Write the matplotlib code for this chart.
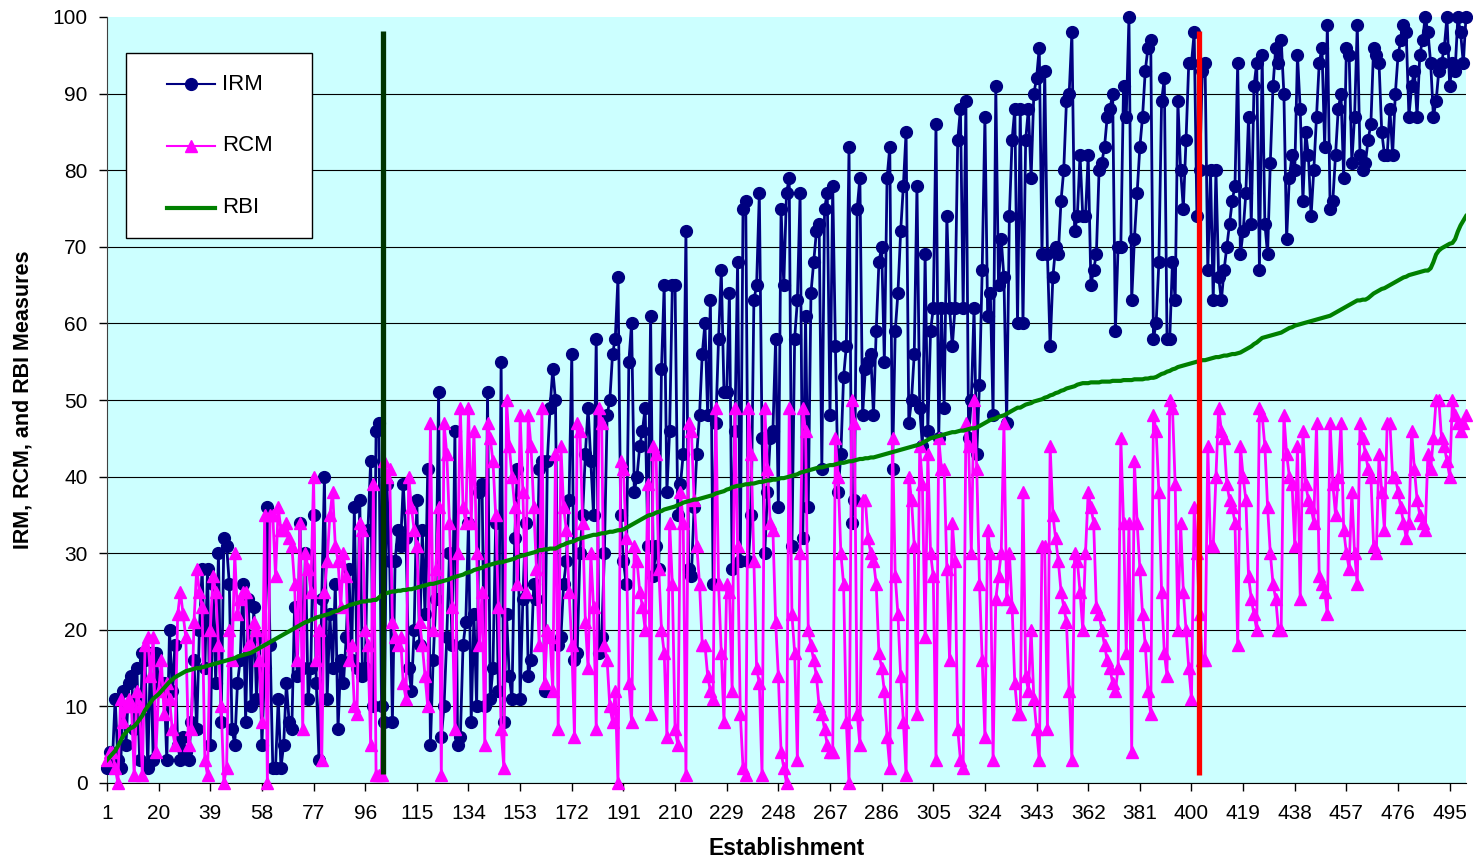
import numpy as np
import matplotlib
matplotlib.use("Agg")
from matplotlib import pyplot as plt
from matplotlib.patches import Rectangle
from matplotlib.lines import Line2D

plt.rcParams['font.family'] = ['Liberation Sans', 'DejaVu Sans']

# values, one per establishment (1..501)
irm = [
    2, 4, 3, 11, 3, 2, 12, 5, 13, 14, 7, 15, 3, 17, 16, 2, 17, 3, 17, 13,
    12, 13, 3, 20, 12, 18, 5, 3, 6, 4, 3, 8, 16, 7, 20, 28, 15, 28, 5, 26,
    13, 30, 8, 32, 31, 26, 7, 5, 13, 16, 26, 8, 24, 10, 23, 11, 19, 5, 15, 36,
    18, 2, 2, 11, 2, 5, 13, 8, 7, 23, 14, 34, 15, 30, 11, 15, 35, 13, 3, 24,
    40, 11, 22, 15, 26, 7, 16, 13, 19, 28, 16, 36, 15, 37, 14, 15, 33, 42, 10, 46,
    47, 10, 8, 39, 29, 8, 29, 33, 31, 39, 32, 15, 12, 20, 37, 18, 33, 22, 41, 5,
    16, 24, 51, 6, 10, 19, 30, 18, 46, 5, 6, 18, 21, 34, 8, 22, 10, 38, 39, 10,
    51, 11, 15, 34, 12, 55, 8, 22, 14, 11, 32, 41, 11, 24, 34, 14, 16, 26, 24, 41,
    42, 12, 42, 49, 54, 50, 18, 19, 26, 29, 37, 56, 16, 17, 30, 35, 43, 49, 42, 35,
    58, 17, 19, 30, 48, 50, 56, 58, 66, 35, 29, 26, 55, 60, 38, 40, 44, 46, 49, 31,
    61, 27, 31, 28, 54, 65, 38, 46, 65, 65, 35, 39, 43, 72, 28, 27, 36, 43, 48, 56,
    60, 48, 63, 26, 47, 58, 67, 51, 51, 64, 28, 46, 68, 29, 75, 76, 29, 35, 63, 65,
    77, 45, 30, 38, 45, 46, 58, 36, 75, 65, 77, 79, 31, 58, 63, 77, 32, 61, 36, 64,
    68, 72, 73, 41, 75, 77, 48, 78, 57, 38, 43, 53, 57, 83, 34, 37, 75, 79, 48, 54,
    55, 56, 48, 59, 68, 70, 55, 79, 83, 41, 59, 64, 72, 78, 85, 47, 50, 56, 78, 49,
    44, 69, 46, 59, 62, 86, 45, 62, 49, 74, 62, 57, 62, 84, 88, 62, 89, 45, 50, 62,
    43, 52, 67, 87, 61, 64, 48, 91, 65, 71, 66, 47, 74, 84, 88, 60, 88, 60, 84, 88,
    79, 90, 92, 96, 69, 93, 69, 57, 66, 70, 69, 76, 80, 89, 90, 98, 72, 74, 82, 74,
    74, 82, 65, 67, 69, 80, 81, 83, 87, 88, 90, 59, 70, 70, 91, 87, 100, 63, 71, 77,
    83, 87, 93, 96, 97, 58, 60, 68, 89, 92, 58, 58, 68, 63, 89, 80, 75, 84, 94, 94,
    98, 74, 80, 93, 94, 67, 80, 63, 80, 66, 63, 67, 70, 73, 76, 78, 94, 69, 72, 77,
    87, 73, 91, 94, 67, 95, 73, 69, 81, 91, 96, 94, 97, 90, 71, 79, 82, 80, 95, 88,
    76, 85, 82, 74, 80, 87, 94, 96, 83, 99, 75, 76, 82, 88, 90, 79, 96, 95, 81, 87,
    99, 82, 80, 81, 84, 86, 96, 95, 94, 85, 82, 82, 88, 82, 90, 95, 97, 99, 98, 87,
    91, 93, 87, 95, 97, 100, 98, 94, 87, 89, 93, 94, 96, 100, 91, 94, 93, 100, 98, 94,
    100,
]

rcm = [
    3, 4, 4, 2, 0, 11, 8, 10, 11, 10, 1, 12, 10, 1, 18, 19, 14, 19, 4, 12,
    16, 9, 13, 11, 7, 5, 22, 25, 22, 19, 5, 7, 21, 28, 25, 23, 3, 1, 20, 27,
    25, 18, 10, 0, 2, 20, 16, 30, 22, 24, 25, 25, 18, 18, 21, 20, 16, 8, 35, 0,
    35, 35, 27, 36, 33, 33, 34, 32, 31, 26, 16, 34, 7, 30, 28, 25, 40, 16, 20, 3,
    25, 29, 35, 38, 31, 29, 23, 30, 27, 16, 18, 10, 9, 34, 33, 20, 18, 5, 39, 1,
    1, 1, 42, 40, 41, 21, 19, 18, 19, 13, 11, 40, 36, 33, 31, 21, 18, 14, 10, 47,
    20, 28, 36, 1, 47, 43, 34, 23, 7, 30, 49, 36, 34, 49, 34, 46, 30, 18, 25, 5,
    47, 45, 42, 35, 23, 7, 2, 50, 44, 40, 36, 26, 48, 38, 25, 48, 44, 36, 28, 18,
    49, 13, 20, 19, 12, 43, 7, 44, 36, 33, 25, 18, 6, 47, 46, 34, 21, 15, 30, 23,
    7, 49, 47, 18, 16, 10, 8, 12, 0, 42, 41, 32, 13, 8, 31, 29, 25, 23, 20, 39,
    9, 44, 43, 28, 20, 17, 6, 34, 26, 7, 5, 38, 34, 1, 47, 46, 37, 31, 26, 18,
    18, 14, 12, 11, 49, 26, 17, 8, 26, 25, 12, 49, 31, 9, 2, 1, 49, 43, 29, 15,
    13, 1, 49, 41, 34, 33, 21, 14, 4, 2, 0, 49, 22, 17, 3, 30, 49, 46, 20, 18,
    16, 14, 10, 9, 7, 5, 4, 4, 45, 40, 30, 26, 8, 0, 50, 47, 9, 5, 37, 37,
    32, 30, 29, 26, 17, 15, 12, 6, 2, 45, 27, 22, 14, 8, 1, 40, 37, 31, 9, 44,
    39, 19, 43, 30, 27, 3, 45, 41, 41, 28, 16, 34, 29, 7, 3, 2, 47, 44, 30, 50,
    41, 26, 16, 6, 33, 30, 3, 24, 27, 30, 47, 24, 30, 23, 13, 9, 9, 38, 14, 12,
    20, 11, 7, 3, 31, 31, 7, 44, 35, 32, 29, 25, 23, 21, 12, 3, 30, 29, 25, 20,
    30, 38, 36, 34, 23, 22, 20, 18, 16, 15, 13, 12, 15, 45, 34, 17, 34, 4, 42, 34,
    28, 22, 18, 12, 9, 48, 46, 38, 25, 17, 14, 50, 49, 39, 20, 34, 25, 20, 15, 11,
    36, 30, 22, 16, 16, 44, 31, 31, 40, 49, 46, 45, 39, 37, 36, 34, 18, 44, 40, 37,
    27, 24, 22, 20, 49, 48, 44, 36, 30, 26, 24, 20, 20, 48, 43, 40, 39, 31, 44, 24,
    46, 39, 37, 36, 34, 47, 27, 26, 25, 22, 47, 39, 35, 40, 47, 33, 30, 28, 38, 30,
    26, 47, 45, 43, 41, 40, 31, 30, 43, 38, 33, 47, 47, 40, 40, 38, 36, 34, 32, 34,
    46, 41, 37, 35, 34, 33, 43, 41, 45, 50, 50, 45, 44, 42, 40, 50, 48, 47, 46, 47,
    48,
]

rbi = [
    3.0, 3.4, 3.8, 4.2, 4.8, 5.5, 6.2, 6.6, 7.0, 7.2, 7.4, 7.8, 8.3, 8.8, 9.5, 10.0, 10.5, 11.0, 11.3, 11.6,
    12.0, 12.4, 12.8, 13.2, 13.5, 13.8, 14.0, 14.2, 14.4, 14.6, 14.7, 14.8, 14.9, 15.0, 15.0, 15.1, 15.2, 15.3, 15.4, 15.5,
    15.6, 15.7, 15.8, 15.9, 16.0, 16.1, 16.2, 16.3, 16.5, 16.6, 16.7, 16.8, 16.9, 17.0, 17.2, 17.4, 17.6, 17.8, 18.0, 18.2,
    18.4, 18.6, 18.8, 19.0, 19.2, 19.4, 19.6, 19.8, 20.0, 20.2, 20.4, 20.6, 20.8, 21.0, 21.1, 21.3, 21.4, 21.6, 21.7, 21.8,
    21.9, 22.0, 22.1, 22.3, 22.4, 22.5, 22.7, 22.9, 23.0, 23.2, 23.3, 23.4, 23.5, 23.6, 23.7, 23.7, 23.8, 23.8, 23.9, 23.9,
    24.2, 24.5, 24.7, 24.8, 24.9, 25.0, 25.0, 25.1, 25.1, 25.2, 25.2, 25.3, 25.3, 25.4, 25.5, 25.6, 25.7, 25.8, 25.9, 26.0,
    26.0, 26.1, 26.2, 26.3, 26.4, 26.5, 26.6, 26.8, 26.9, 27.0, 27.1, 27.2, 27.4, 27.5, 27.6, 27.8, 27.9, 28.0, 28.1, 28.3,
    28.4, 28.5, 28.6, 28.7, 28.8, 28.8, 28.9, 29.0, 29.1, 29.2, 29.3, 29.5, 29.6, 29.7, 29.8, 29.9, 30.0, 30.1, 30.2, 30.4,
    30.4, 30.5, 30.5, 30.6, 30.6, 30.6, 30.8, 31.0, 31.1, 31.3, 31.4, 31.5, 31.6, 31.8, 31.9, 32.0, 32.1, 32.2, 32.3, 32.4,
    32.4, 32.5, 32.6, 32.6, 32.7, 32.8, 32.8, 32.9, 33.0, 33.0, 33.1, 33.3, 33.5, 33.7, 33.9, 34.1, 34.3, 34.5, 34.7, 34.9,
    35.0, 35.1, 35.3, 35.4, 35.5, 35.7, 35.8, 35.9, 36.0, 36.1, 36.3, 36.4, 36.6, 36.7, 36.8, 36.9, 37.0, 37.0, 37.1, 37.2,
    37.3, 37.4, 37.5, 37.6, 37.8, 37.9, 38.0, 38.1, 38.3, 38.4, 38.6, 38.7, 38.8, 38.8, 38.9, 39.0, 39.0, 39.1, 39.1, 39.2,
    39.3, 39.3, 39.4, 39.5, 39.5, 39.6, 39.6, 39.7, 39.8, 39.8, 39.9, 40.0, 40.1, 40.2, 40.3, 40.5, 40.6, 40.7, 40.8, 40.9,
    41.0, 41.1, 41.2, 41.2, 41.3, 41.4, 41.5, 41.5, 41.6, 41.7, 41.8, 41.8, 41.9, 42.0, 42.0, 42.1, 42.2, 42.3, 42.3, 42.4,
    42.4, 42.5, 42.5, 42.6, 42.7, 42.8, 42.9, 43.0, 43.1, 43.2, 43.3, 43.4, 43.5, 43.6, 43.7, 43.8, 43.9, 44.0, 44.1, 44.2,
    44.4, 44.6, 44.8, 45.0, 45.1, 45.2, 45.3, 45.4, 45.5, 45.6, 45.7, 45.8, 45.8, 45.9, 46.0, 46.0, 46.1, 46.2, 46.3, 46.3,
    46.4, 46.6, 46.8, 47.0, 47.2, 47.4, 47.5, 47.6, 47.8, 47.9, 48.0, 48.2, 48.4, 48.6, 48.8, 49.0, 49.0, 49.2, 49.4, 49.5,
    49.6, 49.8, 49.9, 50.0, 50.1, 50.3, 50.4, 50.6, 50.7, 50.9, 51.0, 51.2, 51.3, 51.5, 51.6, 51.7, 51.8, 52.0, 52.1, 52.2,
    52.2, 52.2, 52.3, 52.3, 52.3, 52.3, 52.4, 52.4, 52.4, 52.4, 52.5, 52.5, 52.5, 52.5, 52.6, 52.6, 52.6, 52.6, 52.7, 52.7,
    52.7, 52.7, 52.8, 52.8, 52.9, 52.9, 53.0, 53.2, 53.4, 53.5, 53.7, 53.8, 54.0, 54.1, 54.3, 54.4, 54.5, 54.6, 54.7, 54.8,
    54.9, 55.0, 55.1, 55.2, 55.2, 55.3, 55.4, 55.5, 55.6, 55.6, 55.7, 55.8, 55.8, 55.9, 56.0, 56.0, 56.1, 56.2, 56.4, 56.6,
    56.8, 57.0, 57.3, 57.5, 57.8, 58.1, 58.2, 58.3, 58.4, 58.5, 58.6, 58.7, 58.8, 59.0, 59.2, 59.4, 59.5, 59.7, 59.8, 59.9,
    60.0, 60.1, 60.2, 60.3, 60.4, 60.5, 60.6, 60.7, 60.8, 60.9, 61.0, 61.2, 61.4, 61.6, 61.8, 62.0, 62.2, 62.4, 62.6, 62.8,
    63.0, 63.0, 63.1, 63.1, 63.3, 63.6, 63.9, 64.1, 64.3, 64.5, 64.6, 64.8, 65.0, 65.2, 65.4, 65.6, 65.8, 66.0, 66.1, 66.3,
    66.4, 66.5, 66.6, 66.7, 66.8, 66.9, 66.9, 67.2, 68.0, 69.0, 69.5, 69.8, 70.0, 70.2, 70.4, 70.5, 71.0, 72.0, 72.8, 73.4,
    74.0,
]

tick_labels = list(range(1, 496, 19))
y_ticks = list(range(0, 101, 10))
# establishment positions of the two marker lines
green_mark = 102.6
red_mark = 402.7

fig = plt.figure(figsize=(14.73, 8.65), dpi=100)
ax = fig.add_axes([107 / 1473, 1 - 783 / 865, 1359 / 1473, 766 / 865])
ax.set_facecolor('#CCFFFF')

ax.plot(np.arange(1, len(irm) + 1), irm, color='#000080', lw=2.0,
        marker='o', ms=8.5, mec='#000080', mfc='#000080', zorder=3, clip_on=False)
ax.plot(np.arange(1, len(rcm) + 1), rcm, color='#FF00FF', lw=2.0,
        marker='^', ms=8.5, mec='#FF00FF', mfc='#FF00FF', zorder=4, clip_on=False)
ax.plot(np.arange(1, len(rbi) + 1), rbi, color='#008000', lw=3.0, zorder=5)

ax.plot([green_mark, green_mark], [1.2, 98.2], color='#003300', lw=3.8, zorder=6,
        solid_capstyle='butt')
ax.plot([red_mark, red_mark], [1.0, 98.2], color='#FF0000', lw=3.8, zorder=6,
        solid_capstyle='butt')

ax.set_xlim(1, 501)
ax.set_ylim(0, 100)
ax.set_xticks(tick_labels)
ax.set_yticks(y_ticks)
ax.tick_params(axis='both', labelsize=15, direction='out', length=6, width=1, color='black')
ax.tick_params(axis='x', pad=9)
ax.tick_params(axis='y', pad=8)

ax.yaxis.grid(True, color='black', lw=0.8)
ax.get_ygridlines()[-1].set_visible(False)
ax.set_axisbelow(True)
for s in ['top', 'right']:
    ax.spines[s].set_visible(False)
ax.spines['left'].set_color('#404040')
ax.spines['bottom'].set_color('black')

ax.set_xlabel('Establishment', fontsize=16.5, fontweight='bold')
ax.xaxis.set_label_coords(0.5, -0.071)
ax.set_ylabel('IRM, RCM, and RBI Measures', fontsize=15.5, fontweight='bold')
ax.yaxis.set_label_coords(-0.054, 0.5)

# legend box drawn by hand so it keeps the reference proportions
tr = ax.transAxes
ax.add_patch(Rectangle((0.014, 0.7115), 0.1368, 0.2415, transform=tr,
                       facecolor='white', edgecolor='black', lw=1, zorder=10))
rows = [0.9125, 0.8316, 0.7507]
ax.add_line(Line2D([0.0442, 0.0795], [rows[0]] * 2, transform=tr, color='#000080', lw=1.5, zorder=11))
ax.add_line(Line2D([0.0618], [rows[0]], transform=tr, marker='o', ms=8.5, color='#000080', zorder=11))
ax.add_line(Line2D([0.0442, 0.0795], [rows[1]] * 2, transform=tr, color='#FF00FF', lw=1.5, zorder=11))
ax.add_line(Line2D([0.0618], [rows[1]], transform=tr, marker='^', ms=9, color='#FF00FF', zorder=11))
ax.add_line(Line2D([0.0442, 0.0795], [rows[2]] * 2, transform=tr, color='#008000', lw=3.0, zorder=11))
for y, name in zip(rows, ['IRM', 'RCM', 'RBI']):
    ax.text(0.0846, y, name, transform=tr, fontsize=16, va='center', ha='left', zorder=12)

fig.savefig('out.png', dpi=100)
